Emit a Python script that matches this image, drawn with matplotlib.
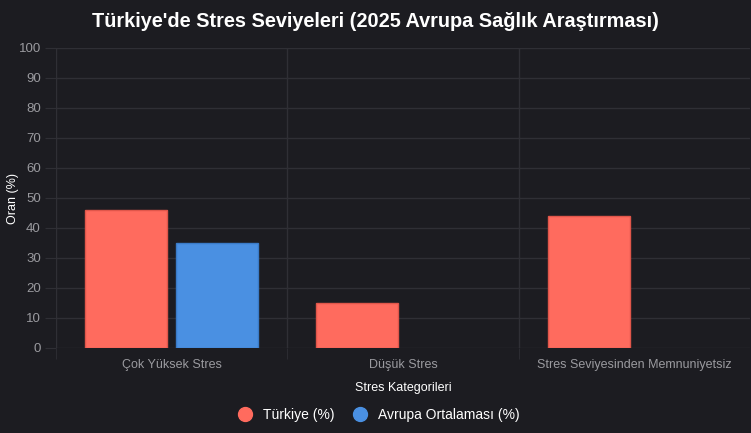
import numpy as np
import matplotlib.pyplot as plt
from matplotlib.lines import Line2D

categories = ['Çok Yüksek Stres', 'Düşük Stres', 'Stres Seviyesinden Memnuniyetsiz']
turkiye = [46, 15, 44]
avrupa = [35, None, None]  # no european value for the last two

bg = '#1c1c21'
grid_c = '#2f2f35'
red = '#ff6b5e'
blue = '#4a90e2'

plt.rcParams['font.family'] = ['Liberation Sans', 'DejaVu Sans']

fig = plt.figure(figsize=(7.51, 4.33), dpi=100, facecolor=bg)
ax = fig.add_axes([56 / 751, 1 - 348 / 433, 694 / 751, 300 / 433])
ax.set_facecolor(bg)

x = np.arange(len(categories))
w = 0.355
avr = np.array([np.nan if v is None else v for v in avrupa], dtype=float)
ax.bar(x - w / 2 - 0.02, turkiye, w, color=red, edgecolor='#e0564a', linewidth=1, zorder=3)
ax.bar(x + w / 2 + 0.02, avr, w, color=blue, edgecolor='#3a7bc8', linewidth=1, zorder=3)

ax.set_xlim(-0.5, 2.5)
ax.set_ylim(0, 100)
ax.set_yticks(range(0, 101, 10))
ax.set_xticks(x)
ax.set_xticklabels(categories)
ax.set_xticks([-0.5, 0.5, 1.5], minor=True)

ax.grid(axis='y', color=grid_c, linewidth=1, zorder=0)
ax.grid(axis='x', which='minor', color=grid_c, linewidth=1, zorder=0)
ax.tick_params(axis='x', which='major', length=0, pad=8, labelcolor='#9a9a9f', labelsize=9)
ax.tick_params(axis='x', which='minor', length=8, color=grid_c)
ax.tick_params(axis='y', length=8, color=grid_c, labelcolor='#9a9a9f', labelsize=9.5, pad=3)
for s in ax.spines.values():
    s.set_visible(False)

ax.set_xlabel('Stres Kategorileri', color='white', fontsize=9, labelpad=8)
ax.set_ylabel('Oran (%)', color='white', fontsize=9)
ax.yaxis.set_label_coords((19 - 56) / 694, 0.5)

fig.suptitle("Türkiye'de Stres Seviyeleri (2025 Avrupa Sağlık Araştırması)",
             color='white', fontsize=14.3, fontweight='bold', y=0.972)

handles = [Line2D([], [], marker='o', linestyle='', markersize=10, markerfacecolor=red, markeredgecolor=red),
           Line2D([], [], marker='o', linestyle='', markersize=10, markerfacecolor=blue, markeredgecolor=blue)]
leg = fig.legend(handles, ['Türkiye (%)', 'Avrupa Ortalaması (%)'], loc='center',
                 bbox_to_anchor=(0.5, 1 - 415 / 433), ncol=2, frameon=False,
                 fontsize=10, handletextpad=0.3, columnspacing=0.8)
for t in leg.get_texts():
    t.set_color('white')

plt.savefig('out.png', dpi=100, facecolor=bg)
